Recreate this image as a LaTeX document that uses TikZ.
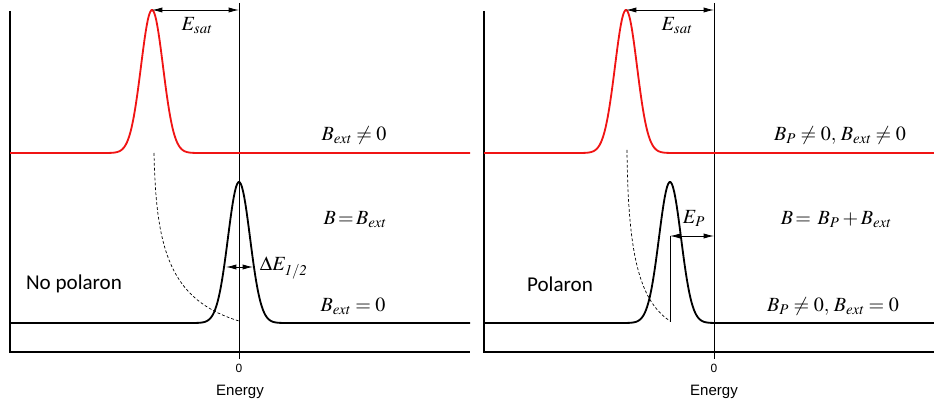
\documentclass[tikz,border=0pt]{standalone}
\usepackage{mathptmx}
\usepackage[no-math]{fontspec}
\newfontfamily\calibri{Carlito}
\newfontfamily\arial{Liberation Sans}
\usetikzlibrary{arrows.meta}
\definecolor{satred}{RGB}{240,20,20}

\begin{document}
\begin{tikzpicture}[
        x=0.025cm,y=-0.025cm,
        axisline/.style={line width=1pt},
        zeroline/.style={line width=0.6pt},
        redcurve/.style={satred,line width=1.3pt},
        blackcurve/.style={black,line width=1.3pt},
        guide/.style={line width=0.5pt,dash pattern=on 2pt off 1.5pt},
        dim/.style={{Latex[length=2.6mm,width=1.3mm]}-{Latex[length=2.6mm,width=1.3mm]},line width=0.6pt},
        lbl/.style={font=\fontsize{14.3}{16}\selectfont},
        tick/.style={font=\arial\fontsize{8.5}{10}\selectfont},
        axlabel/.style={font=\arial\fontsize{10.7}{12}\selectfont},
        tag/.style={font=\calibri\fontsize{15}{18}\selectfont}
    ]
        \useasboundingbox (0,0) rectangle (934,405);

        % Left panel: axes
        \draw[axisline] (10,11) -- (10,352) -- (470,352);
        \draw[zeroline] (239,3) -- (239,359);

        % Left panel: spectra
        \draw[redcurve] (10,153) -- plot[domain=100:204,samples=90] (\x,{153-143*exp(-0.5*((\x-152)/11)^2)}) -- (470,153);
        \draw[blackcurve] (10,323) -- plot[domain=187:291,samples=90] (\x,{323-141*exp(-0.5*((\x-239)/11)^2)}) -- (470,323);
        \draw[guide] (154,153) .. controls (156,250) and (170,300) .. (239,321);

        % Left panel: arrows
        \coordinate (satL) at (152,10);
        \coordinate (zeroL) at (239,10);
        \draw[dim] (satL) -- (zeroL);
        \coordinate (halfa) at (226,267);
        \coordinate (halfb) at (253,267);
        \draw[dim] (halfa) -- (halfb);

        % Left panel: labels
        \node[lbl] (esatL) at (197,26) {$E_{\mathit{sat}}$};
        \node[lbl] (bextne) at (354,135) {$B_{\mathit{ext}}\neq 0$};
        \node[lbl] (bbext) at (355,220) {$B\!=\!B_{\mathit{ext}}$};
        \node[lbl,anchor=west] (dhalf) at (255,268) {$\Delta E_{\mathit{1/2}}$};
        \node[tag] (nopol) at (74,284) {No polaron};
        \node[lbl] (bexteq) at (353,306) {$B_{\mathit{ext}}=0$};
        \node[tick] (zeroLbl) at (239,368) {0};
        \node[axlabel] (enL) at (240,392) {Energy};

        % Right panel: axes
        \draw[axisline] (484,11) -- (484,352) -- (934,352);
        \draw[zeroline] (714,3) -- (714,359);

        % Right panel: spectra
        \draw[redcurve] (484,153) -- plot[domain=574:678,samples=90] (\x,{153-143*exp(-0.5*((\x-626)/11)^2)}) -- (934,153);
        \draw[blackcurve] (484,323) -- plot[domain=618:722,samples=90] (\x,{323-141*exp(-0.5*((\x-670)/11)^2)}) -- (934,323);
        \draw[guide] (627,150) .. controls (628,250) and (638,300) .. (670,321);

        % Right panel: arrows
        \coordinate (satR) at (626,10);
        \coordinate (zeroR) at (714,10);
        \draw[dim] (satR) -- (zeroR);
        \coordinate (pola) at (670,236);
        \coordinate (polb) at (714,236);
        \coordinate (polfoot) at (670,322);
        \draw[zeroline] (pola) -- (polfoot);
        \draw[dim] (pola) -- (polb);

        % Right panel: labels
        \node[lbl] (esatR) at (677,26) {$E_{\mathit{sat}}$};
        \node[lbl] (bpne) at (840,135) {$B_P\neq 0,\,B_{\mathit{ext}}\neq 0$};
        \node[lbl] (bsum) at (836,220) {$B\!=\,B_P+B_{\mathit{ext}}$};
        \node[lbl] (ep) at (694,218) {$E_P$};
        \node[tag] (pol) at (560,284) {Polaron};
        \node[lbl] (bpeq) at (833,306) {$B_P\neq 0,\,B_{\mathit{ext}}=0$};
        \node[tick] (zeroRlbl) at (714,368) {0};
        \node[axlabel] (enR) at (714,392) {Energy};
    \end{tikzpicture}
\end{document}
